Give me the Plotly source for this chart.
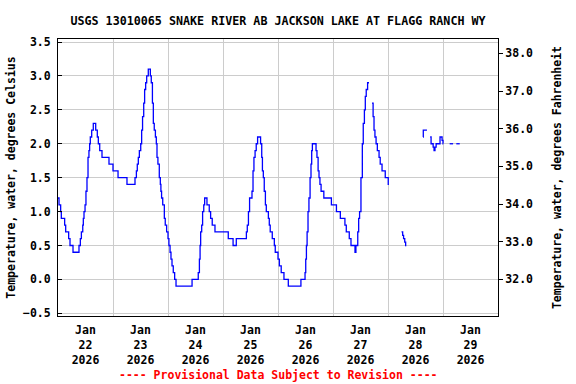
import pandas as pd
import plotly.graph_objects as go

# Water temperature (deg C), hours after 2026-01-22 00:00 at which each stepped value begins.
# None marks gaps in the record.
hours = [
    0.0, 0.44, 1.16, 1.45, 2.9, 3.35, 4.65, 5.24, 6.55, 9.16, 9.75, 10.2, 10.8, 11.05, 11.35,
    11.8, 12.2, 12.65, 13.1, 13.5, 13.8, 14.1, 14.7, 15.4, 16.45, 17.15, 17.6, 18.2, 19.2,
    22.25, 24.0, 26.2, 30.1, 33.6, 34.2, 34.6, 35.05, 35.5, 36.1, 36.5, 36.9, 37.4, 37.8,
    38.25, 38.7, 39.4, 40.3, 40.7, 41.2, 41.6, 42.0, 42.5, 42.9, 43.2, 43.6, 44.2, 44.65,
    44.9, 45.2, 45.7, 46.4, 46.8, 47.4, 48.0, 48.4, 48.9, 49.3, 49.75, 50.3, 50.9, 51.5,
    58.5, 61.2, 61.7, 62.0, 62.25, 62.7, 63.1, 63.6, 64.0, 65.0, 66.0, 66.6, 67.3, 68.5,
    74.3, 76.4, 77.8, 82.2, 82.6, 83.1, 83.6, 84.65, 85.1, 85.5, 86.0, 86.5, 87.1, 88.4,
    88.9, 89.2, 89.6, 90.0, 90.5, 90.9, 91.8, 92.2, 92.6, 93.5, 94.4, 94.8, 96.0, 96.6,
    97.4, 98.6, 100.5, 106.0, 107.8, 108.1, 108.4, 108.7, 109.1, 109.5, 110.0, 110.4,
    110.7, 111.0, 112.6, 113.0, 113.5, 113.9, 114.3, 114.8, 116.0, 119.3, 121.5, 123.2,
    125.2, 125.8, 127.1, 127.85, 129.6, 130.0, 130.8, 131.2, 131.6, 132.2, 132.8, 133.2,
    133.7, 134.1, 134.5, 135.1, 135.7,
    None,
    137.0, 137.5, 137.9, 138.3, 138.8, 139.35, 140.1, 140.6, 141.4, 142.8, 144.1, 144.4,
    None,
    149.9, 150.4, 150.8, 151.3, 151.7, 152.0,
    None,
    159.3, 159.4, 161.0,
    None,
    162.4, 162.8, 163.7, 164.1, 164.5, 165.0, 166.7, 167.6, 168.0, 168.1,
    None,
    170.9, 172.4,
    None,
    173.8, 175.3,
]
temp_c = [
    1.2, 1.1, 1.0, 0.9, 0.8, 0.7, 0.6, 0.5, 0.4, 0.5, 0.6, 0.7, 0.8, 0.9, 1.0,
    1.1, 1.3, 1.5, 1.8, 1.9, 2.0, 2.1, 2.2, 2.3, 2.2, 2.1, 2.0, 1.9, 1.8,
    1.7, 1.6, 1.5, 1.4, 1.5, 1.6, 1.7, 1.8, 1.9, 2.0, 2.2, 2.4, 2.6, 2.8,
    2.9, 3.0, 3.1, 3.0, 2.9, 2.6, 2.3, 2.2, 2.1, 2.0, 1.8, 1.7, 1.5, 1.4,
    1.3, 1.2, 1.1, 0.9, 0.8, 0.7, 0.6, 0.5, 0.4, 0.3, 0.2, 0.1, 0.0, -0.1,
    0.0, 0.1, 0.3, 0.5, 0.7, 0.8, 1.0, 1.1, 1.2, 1.1, 1.0, 0.9, 0.8, 0.7,
    0.6, 0.5, 0.6, 0.7, 0.8, 1.0, 1.2, 1.3, 1.6, 1.8, 1.9, 2.0, 2.1, 2.0,
    1.8, 1.6, 1.5, 1.3, 1.1, 1.0, 0.9, 0.8, 0.7, 0.6, 0.5, 0.4, 0.3, 0.2,
    0.1, 0.0, -0.1, 0.0, 0.1, 0.3, 0.5, 0.7, 1.0, 1.2, 1.5, 1.7,
    1.9, 2.0, 1.9, 1.8, 1.6, 1.5, 1.4, 1.3, 1.2, 1.1, 1.0, 0.9,
    0.8, 0.7, 0.6, 0.5, 0.4, 0.5, 0.7, 0.9, 1.0, 1.5, 2.0, 2.3,
    2.5, 2.7, 2.8, 2.9, 2.9,
    None,
    2.6, 2.4, 2.2, 2.1, 2.0, 1.9, 1.8, 1.7, 1.6, 1.5, 1.4, 1.4,
    None,
    0.7, 0.65, 0.6, 0.55, 0.5, 0.5,
    None,
    2.1, 2.2, 2.2,
    None,
    2.1, 2.0, 1.95, 1.9, 1.95, 2.0, 2.1, 2.05, 2.0, 2.0,
    None,
    2.0, 2.0,
    None,
    2.0, 2.0,
]

day_labels = ["22", "23", "24", "25", "26", "27", "28", "29"]
c_ticks = [-0.5, 0.0, 0.5, 1.0, 1.5, 2.0, 2.5, 3.0, 3.5]
f_ticks = [32, 33, 34, 35, 36, 37, 38]

base = pd.Timestamp("2026-01-22 00:00")
x = [None if h is None else base + pd.Timedelta(hours=h) for h in hours]

c_range = [-0.54, 3.545]
f_range = [c * 1.8 + 32 for c in c_range]

label_vals = [base + pd.Timedelta(days=i, hours=12) for i in range(len(day_labels))]
label_text = [f"Jan<br>{d}<br>2026" for d in day_labels]
grid_vals = [base + pd.Timedelta(days=i) for i in range(1, len(day_labels))]

FONT = "DejaVu Sans Mono"

fig = go.Figure()
fig.add_trace(go.Scatter(
    x=x, y=temp_c, mode="lines", line=dict(color="#0000ff", width=1.3, shape="hv"),
    connectgaps=False, showlegend=False, hoverinfo="skip",
))
# invisible trace to activate the Fahrenheit axis
fig.add_trace(go.Scatter(
    x=[base], y=[None], yaxis="y2", mode="lines", showlegend=False, hoverinfo="skip",
))

fig.update_layout(
    width=576, height=384,
    margin=dict(l=58, r=78, t=39, b=68, pad=0, autoexpand=False),
    paper_bgcolor="white", plot_bgcolor="white",
    font=dict(family=FONT, size=11.5, color="black", weight="bold"),
    title=dict(
        text="USGS 13010065 SNAKE RIVER AB JACKSON LAKE AT FLAGG RANCH WY",
        x=0.5, xref="paper", xanchor="center",
        y=1 - 21 / 384, yref="container", yanchor="middle", automargin=False,
        font=dict(family=FONT, size=11.7, color="black", weight="bold"),
    ),
    xaxis=dict(
        range=[base, base + pd.Timedelta(days=8)], automargin=False,
        tickmode="array", tickvals=label_vals, ticktext=label_text,
        ticks="", showgrid=False, zeroline=False,
        showline=True, linecolor="black", linewidth=1, mirror=True,
        ticklabelstandoff=3,
        minor=dict(tickmode="array", tickvals=grid_vals, showgrid=True,
                   gridcolor="#cccccc", gridwidth=1, ticks=""),
    ),
    yaxis=dict(
        range=c_range, tickmode="array", tickvals=c_ticks, automargin=False,
        tickformat=".1f", ticks="inside", ticklen=4, tickcolor="black",
        showgrid=True, gridcolor="#cccccc", gridwidth=1, zeroline=False,
        showline=True, linecolor="black", linewidth=1, mirror=True,
        ticklabelstandoff=4,
        title=dict(text="Temperature, water, degrees Celsius", standoff=4,
                   font=dict(size=11.5)),
    ),
    yaxis2=dict(
        range=f_range, overlaying="y", side="right", tickmode="array",
        tickvals=f_ticks, tickformat=".1f", ticks="outside", ticklen=4, automargin=False,
        tickcolor="black", showgrid=False, zeroline=False, showline=False,
        title=dict(text="Temperature, water, degrees Fahrenheit", standoff=20,
                   font=dict(size=11.5)),
    ),
    annotations=[dict(
        text="---- Provisional Data Subject to Revision ----",
        xref="paper", yref="paper", x=0.5, y=-(375 - 316) / (316 - 39),
        xanchor="center", yanchor="middle", showarrow=False,
        font=dict(family=FONT, size=11.5, color="#ff0000", weight="bold"),
    )],
)

fig.write_html("out.html", config={"displayModeBar": False},
               post_script="document.body.style.margin='0';")
